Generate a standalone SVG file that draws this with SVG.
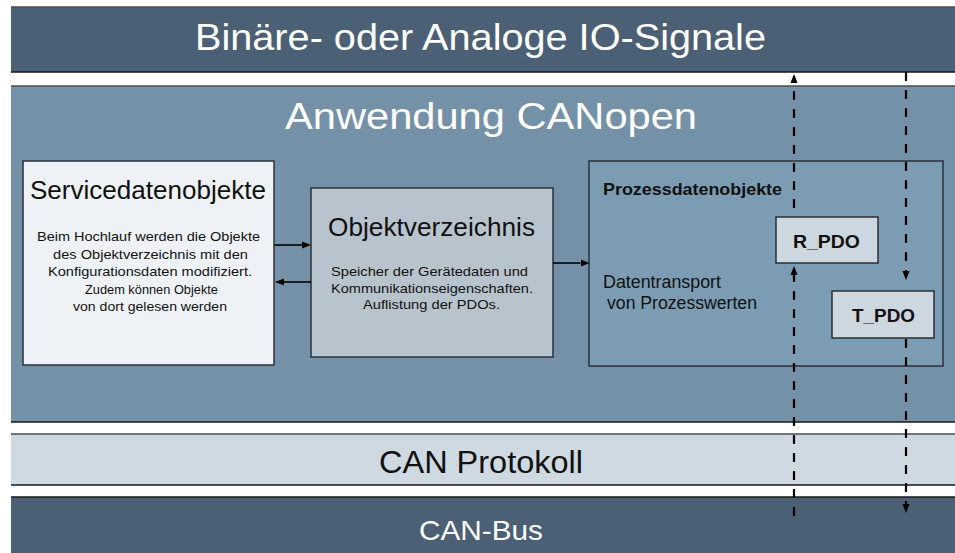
<svg xmlns="http://www.w3.org/2000/svg" width="955" height="553" viewBox="0 0 955 553">
  <defs>
    <style>
      text { font-family: "Liberation Sans", Arial, sans-serif; }
      .band-title { fill: #ffffff; text-anchor: middle; }
      .dark-title { fill: #111111; text-anchor: middle; }
      .box-title { fill: #111111; text-anchor: middle; font-size: 25px; }
      .body { fill: #111111; text-anchor: middle; }
      .bold { fill: #111111; font-weight: bold; }
      .edge-top { stroke: #4a4f55; stroke-width: 1.5; }
      .edge-bot { stroke: #15191d; stroke-width: 1.5; }
      .box { stroke: #2a3038; stroke-width: 1.5; }
      .link { stroke: #000000; stroke-width: 1.6; fill: none; }
      .signal { stroke: #000000; stroke-width: 2.2; stroke-dasharray: 9 9; fill: none; }
    </style>
    <marker id="head" viewBox="0 0 10 8" refX="0" refY="4" markerWidth="9" markerHeight="7.2" markerUnits="userSpaceOnUse" orient="auto">
      <path d="M0,0 L10,4 L0,8 z" fill="#000000"/>
    </marker>
  </defs>

  <rect width="955" height="553" fill="#ffffff"/>

  <!-- layer bands -->
  <g id="io-signals">
    <rect x="11" y="7" width="950" height="65" fill="#4b6074"/>
    <line class="edge-top" x1="11" y1="7" x2="955" y2="7"/>
    <line class="edge-bot" x1="11" y1="72" x2="955" y2="72"/>
    <text class="band-title" x="480.5" y="50" font-size="37" textLength="571" lengthAdjust="spacingAndGlyphs">Binäre- oder Analoge IO-Signale</text>
  </g>

  <g id="application">
    <rect x="11" y="86" width="950" height="336" fill="#7591a7"/>
    <line class="edge-top" x1="11" y1="86" x2="955" y2="86"/>
    <line class="edge-bot" x1="11" y1="422" x2="955" y2="422" stroke="#3a4650"/>
    <text class="band-title" x="491" y="129" font-size="37" textLength="412" lengthAdjust="spacingAndGlyphs">Anwendung CANopen</text>
  </g>

  <g id="can-protocol">
    <rect x="11" y="434" width="950" height="51" fill="#cfd9e1"/>
    <line class="edge-top" x1="11" y1="434" x2="955" y2="434"/>
    <line class="edge-bot" x1="11" y1="485" x2="955" y2="485"/>
    <text class="dark-title" x="481" y="473" font-size="32" textLength="204" lengthAdjust="spacingAndGlyphs">CAN Protokoll</text>
  </g>

  <g id="can-bus">
    <rect x="11" y="497" width="950" height="60" fill="#4b6074"/>
    <line class="edge-bot" x1="11" y1="497" x2="955" y2="497"/>
    <text class="band-title" x="481" y="540" font-size="28" textLength="124" lengthAdjust="spacingAndGlyphs">CAN-Bus</text>
  </g>

  <!-- service data objects -->
  <g id="sdo">
    <rect class="box" x="23" y="161" width="251" height="204" fill="#eef2f6"/>
    <text class="box-title" x="148" y="199" textLength="236" lengthAdjust="spacingAndGlyphs">Servicedatenobjekte</text>
    <g class="body" font-size="13.5">
      <text x="148.5" y="241" textLength="223" lengthAdjust="spacingAndGlyphs">Beim Hochlauf werden die Objekte</text>
      <text x="150.5" y="258.5" textLength="195" lengthAdjust="spacingAndGlyphs">des Objektverzeichnis mit den</text>
      <text x="150" y="276" textLength="204" lengthAdjust="spacingAndGlyphs">Konfigurationsdaten modifiziert.</text>
      <text x="151.5" y="293.5" textLength="133" lengthAdjust="spacingAndGlyphs">Zudem können Objekte</text>
      <text x="150" y="311" textLength="154" lengthAdjust="spacingAndGlyphs">von dort gelesen werden</text>
    </g>
  </g>

  <!-- object dictionary -->
  <g id="object-dictionary">
    <rect class="box" x="311" y="188" width="242" height="169" fill="#b7c4ce"/>
    <text class="box-title" x="431.5" y="236" textLength="207" lengthAdjust="spacingAndGlyphs">Objektverzeichnis</text>
    <g class="body" font-size="13">
      <text x="429.5" y="276" textLength="197" lengthAdjust="spacingAndGlyphs">Speicher der Gerätedaten und</text>
      <text x="432" y="293" textLength="202" lengthAdjust="spacingAndGlyphs">Kommunikationseigenschaften.</text>
      <text x="431.5" y="309" textLength="137" lengthAdjust="spacingAndGlyphs">Auflistung der PDOs.</text>
    </g>
  </g>

  <!-- process data objects -->
  <g id="pdo">
    <rect class="box" x="589" y="161" width="354" height="205" fill="#7b9cb2"/>
    <text class="bold" x="603" y="195" font-size="17" textLength="179" lengthAdjust="spacingAndGlyphs">Prozessdatenobjekte</text>
    <text x="603" y="287.5" font-size="17.5" fill="#111111" textLength="118" lengthAdjust="spacingAndGlyphs">Datentransport</text>
    <text x="607" y="309" font-size="17.5" fill="#111111" textLength="150" lengthAdjust="spacingAndGlyphs">von Prozesswerten</text>
  </g>

  <g id="r-pdo">
    <rect class="box" x="776" y="217" width="102" height="46" fill="#cdd7df"/>
    <text class="bold" x="793" y="248" font-size="18.5" textLength="67" lengthAdjust="spacingAndGlyphs">R_PDO</text>
  </g>

  <g id="t-pdo">
    <rect class="box" x="832" y="291" width="102" height="47" fill="#cdd7df"/>
    <text class="bold" x="852" y="322" font-size="18.5" textLength="63" lengthAdjust="spacingAndGlyphs">T_PDO</text>
  </g>

  <!-- connectors -->
  <g id="connectors">
    <line class="link" x1="274.5" y1="245" x2="302" y2="245" marker-end="url(#head)"/>
    <line class="link" x1="311" y1="282" x2="284" y2="282" marker-end="url(#head)"/>
    <line class="link" x1="553" y1="263" x2="580.5" y2="263" marker-end="url(#head)"/>

    <line class="signal" x1="794" y1="516" x2="794" y2="275" marker-end="url(#head)"/>
    <line class="signal" x1="794" y1="208" x2="794" y2="83" marker-end="url(#head)"/>
    <line class="signal" x1="906" y1="72" x2="906" y2="271" marker-end="url(#head)"/>
    <line class="signal" x1="906" y1="339" x2="906" y2="504" marker-end="url(#head)"/>
  </g>
</svg>
